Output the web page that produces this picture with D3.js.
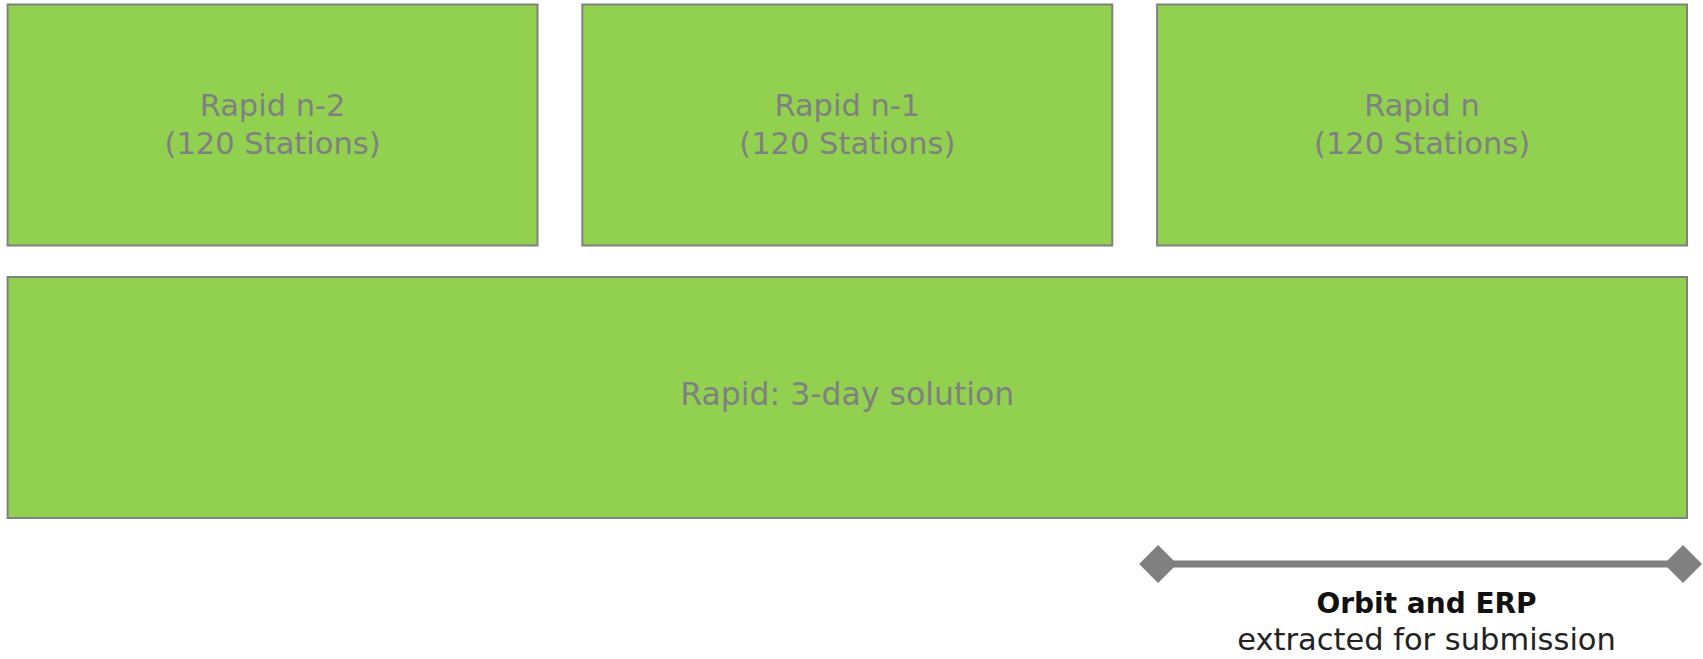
<!DOCTYPE html>
<html>
  <head>
    <meta charset="utf-8">
    <title>Rapid solutions</title>
    <script src="https://d3js.org/d3.v7.min.js"></script>
    <style>
      body { margin: 0; background: #fff; }
    </style>
  </head>
  <body>
    <script>
      // daily rapid solutions, combined into one 3-day solution
      const dailyRuns = ["Rapid n-2", "Rapid n-1", "Rapid n"];
      const dailySubtitles = ["(120 Stations)", "(120 Stations)", "(120 Stations)"];
      const combinedLabel = "Rapid: 3-day solution";
      const combinedSpan = [0, 3];      // days
      const extractRun = "Rapid n";     // day whose orbit/ERP is submitted
      const extractLabels = ["Orbit and ERP", "extracted for submission"];

      const width = 1703;
      const height = 659;
      const left = 7.6, right = 1687;

      const svg = d3.select("body")
        .append("svg")
          .attr("width", width)
          .attr("height", height);

      const xBand = d3.scaleBand()
        .domain(dailyRuns)
        .range([left, right])
        .paddingInner(0.078);

      const xDay = d3.scaleLinear()
        .domain([0, 3])
        .range([left, right]);

      const green = "#92d050";
      const grey = "#808080";
      const font = "'DejaVu Sans', Verdana, sans-serif";

      // top row
      const dayBoxes = svg.selectAll("g.day")
        .data(dailyRuns)
        .enter().append("g")
          .attr("class", "day");

      dayBoxes.append("rect")
        .attr("x", d => xBand(d))
        .attr("y", 4.5)
        .attr("width", xBand.bandwidth())
        .attr("height", 241)
        .attr("fill", green)
        .attr("stroke", grey)
        .attr("stroke-width", 2);

      dayBoxes.append("text")
        .attr("x", d => xBand(d) + xBand.bandwidth() / 2)
        .attr("y", 116)
        .attr("text-anchor", "middle")
        .attr("font-family", font)
        .attr("font-size", 30.5)
        .attr("fill", grey)
        .text(d => d);

      dayBoxes.append("text")
        .attr("x", d => xBand(d) + xBand.bandwidth() / 2)
        .attr("y", 154)
        .attr("text-anchor", "middle")
        .attr("font-family", font)
        .attr("font-size", 30.5)
        .attr("fill", grey)
        .text((d, i) => dailySubtitles[i]);

      // combined solution
      svg.append("rect")
        .attr("x", xDay(combinedSpan[0]))
        .attr("y", 277)
        .attr("width", xDay(combinedSpan[1]) - xDay(combinedSpan[0]))
        .attr("height", 241)
        .attr("fill", green)
        .attr("stroke", grey)
        .attr("stroke-width", 2);

      svg.append("text")
        .attr("x", (xDay(combinedSpan[0]) + xDay(combinedSpan[1])) / 2)
        .attr("y", 405)
        .attr("text-anchor", "middle")
        .attr("font-family", font)
        .attr("font-size", 31.5)
        .attr("fill", grey)
        .text(combinedLabel);

      // extraction bracket
      const x0 = xBand(extractRun) + 1;
      const x1 = xBand(extractRun) + xBand.bandwidth() - 4;
      const ly = 564;
      svg.append("line")
        .attr("x1", x0).attr("x2", x1)
        .attr("y1", ly).attr("y2", ly)
        .attr("stroke", grey)
        .attr("stroke-width", 7);

      svg.selectAll("path.tip")
        .data([x0, x1])
        .enter().append("path")
          .attr("class", "tip")
          .attr("d", d3.symbol().type(d3.symbolSquare).size(720))
          .attr("transform", d => "translate(" + d + "," + ly + ") rotate(45)")
          .attr("fill", grey);

      const cx = (x0 + x1) / 2 + 6;
      svg.append("text")
        .attr("x", cx)
        .attr("y", 613)
        .attr("text-anchor", "middle")
        .attr("font-family", font)
        .attr("font-size", 28)
        .attr("font-weight", "bold")
        .attr("fill", "#111")
        .text(extractLabels[0]);

      svg.append("text")
        .attr("x", cx)
        .attr("y", 650)
        .attr("text-anchor", "middle")
        .attr("font-family", font)
        .attr("font-size", 30.5)
        .attr("fill", "#222")
        .text(extractLabels[1]);
    </script>
  </body>
</html>
